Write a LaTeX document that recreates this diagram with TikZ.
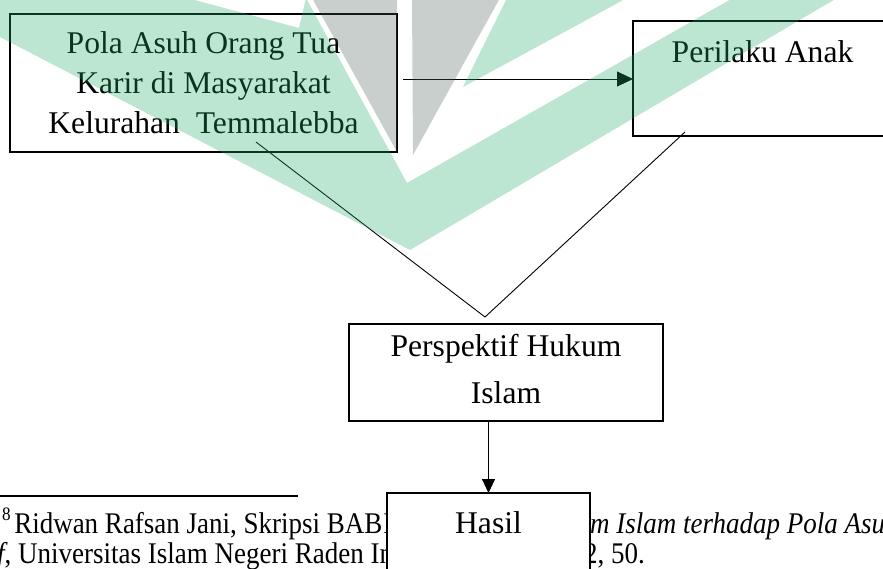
\documentclass[tikz,border=0pt]{standalone}
\usepackage{fontspec}
\setmainfont{Liberation Serif}
\newfontfamily\fnfont{Liberation Serif}[FakeStretch=0.9]
\usetikzlibrary{arrows.meta}
\definecolor{wmgreen}{RGB}{38,172,105}
\definecolor{wmgray}{RGB}{72,95,88}
\begin{document}
\begin{tikzpicture}[x=1pt,y=-1pt,
  box/.style={draw=black, line width=1.1pt, inner sep=0pt, outer sep=0pt},
  lbl/.style={inner sep=0pt, anchor=base, font=\fontsize{31.6}{36}\selectfont},
  fn/.style={inner sep=0pt, anchor=base west, font=\fnfont\fontsize{30}{34}\selectfont},
  conn/.style={draw=black, line width=0.9pt},
  arr/.style={conn, -{Triangle[length=16pt,width=15pt]}},
  darr/.style={conn, -{Triangle[length=14pt,width=13pt]}},
  wm/.style={fill opacity=0.3, draw=none}
]
\useasboundingbox (0,0) rectangle (883,568);
\clip (0,0) rectangle (883,568);

% boxes
\node[box, minimum width=387pt, minimum height=138pt] (box1) at (203.5,83) {};
\node[box, minimum width=260pt, minimum height=115pt] (box2) at (763,78.5) {};
\node[box, minimum width=314pt, minimum height=97pt] (box3) at (506,372.5) {};

% texts
\node[lbl] (t1a) at (203.5,53) {Pola Asuh Orang Tua};
\node[lbl] (t1b) at (203.5,93) {Karir di Masyarakat};
\node[lbl] (t1c) at (203.5,133) {Kelurahan\ \ Temmalebba};
\node[lbl] (t2) at (762.5,62) {Perilaku Anak};
\node[lbl] (t3a) at (506,356) {Perspektif Hukum};
\node[lbl] (t3b) at (506,403) {Islam};

% connectors
\coordinate (a1) at (403,79);
\draw[arr] (a1) -- (a1 -| box2.west);
\coordinate (s1) at (256,142);
\coordinate (s2) at (685,132);
\coordinate (v) at (485,317);
\draw[conn] (s1) -- (v) -- (s2);

% footnote
\draw[line width=2pt] (0,496) -- (298,496);
\node[fn] (f1) at (2,533) {\raisebox{13pt}{\fontsize{19}{19}\selectfont 8}\hspace{3.5pt}Ridwan Rafsan Jani, Skripsi BAB\hspace{1pt}I};
\node[fn] (f2) at (590,533) {\textit{m Islam terhadap Pola Asu}};
\node[fn] (f3) at (-3,563) {\textit{f}, Universitas Islam Negeri Raden In};
\node[fn] (f4) at (584,563) {2, 50.};

% result box
\node[box, line width=2pt, fill=white, minimum width=203pt, minimum height=87pt] (box4) at (488.5,536.5) {};
\node[lbl] (t4) at (488.5,533) {Hasil};
\draw[darr] (box4.north |- box3.south) -- (box4.north);

% watermark
\fill[wm, wmgreen] (0,37) -- (0,-2) -- (187,-2) -- (299,28) -- (306,-2) -- (407,183) -- (733,-2) -- (837,-2) -- (410,250) -- cycle;
\fill[wm, wmgreen] (507,-2) -- (627,-2) -- (463,87) -- cycle;
\fill[wm, wmgray] (312,-2) -- (397,-2) -- (397,152) -- cycle;
\fill[wm, wmgray] (412,-2) -- (500,-2) -- (413,155) -- cycle;
\end{tikzpicture}
\end{document}
